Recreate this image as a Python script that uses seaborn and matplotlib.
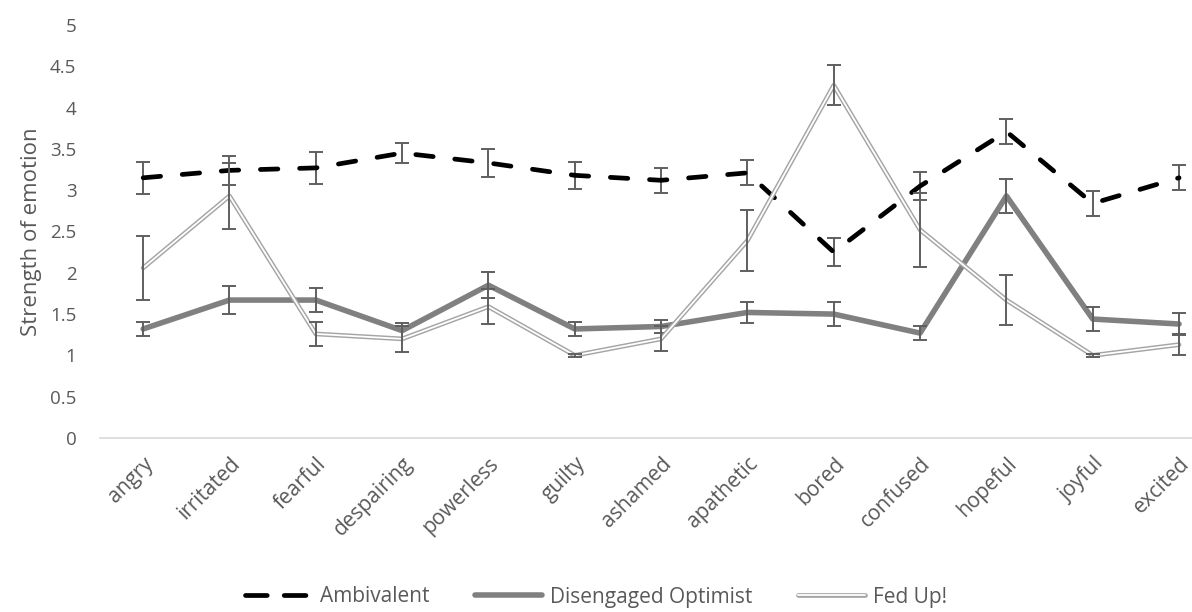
import matplotlib
matplotlib.use("Agg")
import matplotlib.pyplot as plt
from matplotlib.lines import Line2D
import seaborn as sns
import pandas as pd
import numpy as np

emotions = ["angry", "irritated", "fearful", "despairing", "powerless", "guilty",
            "ashamed", "apathetic", "bored", "confused", "hopeful", "joyful", "excited"]

ambivalent = [3.15, 3.24, 3.27, 3.45, 3.33, 3.18, 3.12, 3.21, 2.25, 3.05, 3.71, 2.84, 3.15]
ambivalent_err = [0.19, 0.18, 0.19, 0.12, 0.17, 0.16, 0.15, 0.15, 0.17, 0.17, 0.15, 0.15, 0.15]

disengaged = [1.32, 1.67, 1.67, 1.30, 1.85, 1.32, 1.35, 1.52, 1.50, 1.27, 2.93, 1.44, 1.38]
disengaged_err = [0.09, 0.17, 0.15, 0.09, 0.16, 0.08, 0.08, 0.13, 0.15, 0.08, 0.21, 0.15, 0.13]

fed_up = [2.06, 2.93, 1.26, 1.20, 1.59, 1.00, 1.20, 2.39, 4.27, 2.52, 1.67, 1.00, 1.13]
fed_up_err = [0.39, 0.40, 0.15, 0.16, 0.21, 0.02, 0.15, 0.37, 0.24, 0.45, 0.30, 0.02, 0.13]

y_ticks = [0, 0.5, 1, 1.5, 2, 2.5, 3, 3.5, 4, 4.5, 5]
y_tick_labels = ["0", "0.5", "1", "1.5", "2", "2.5", "3", "3.5", "4", "4.5", "5"]

sns.set_theme(style="white")
plt.rcParams["font.family"] = ["Open Sans", "DejaVu Sans"]

text_color = "#595959"
err_color = "#5f5f5f"

fig = plt.figure(figsize=(11.92, 6.12), dpi=100)
ax = fig.add_axes([100 / 1192, 1 - 438 / 612, 1 - 100 / 1192, (438 - 25) / 612])

x = np.arange(len(emotions))
df = pd.DataFrame({"pos": x, "Ambivalent": ambivalent,
                   "Disengaged Optimist": disengaged, "Fed Up!": fed_up})

# Ambivalent: thick black dashed line
sns.lineplot(data=df, x="pos", y="Ambivalent", ax=ax, color="black", lw=3.4,
             sort=False, zorder=3)
amb_line = ax.lines[-1]
amb_line.set_dashes((3.7, 4.6))
amb_line.set_dash_capstyle("round")
amb_line.set_solid_joinstyle("round")
ax.errorbar(x, ambivalent, yerr=ambivalent_err, fmt="none", ecolor=err_color,
            elinewidth=1.4, capsize=5, capthick=1.4, zorder=2.9)

# Disengaged Optimist: thick mid-grey solid line
sns.lineplot(data=df, x="pos", y="Disengaged Optimist", ax=ax, color="#808080",
             lw=4.0, sort=False, zorder=4)
ax.errorbar(x, disengaged, yerr=disengaged_err, fmt="none", ecolor=err_color,
            elinewidth=1.4, capsize=5, capthick=1.4, zorder=4.1)

# Fed Up!: double line (grey outline with white core)
sns.lineplot(data=df, x="pos", y="Fed Up!", ax=ax, color="#a5a5a5",
             lw=3.4, sort=False, zorder=5)
sns.lineplot(data=df, x="pos", y="Fed Up!", ax=ax, color="white",
             lw=1.3, sort=False, zorder=5.1)
ax.errorbar(x, fed_up, yerr=fed_up_err, fmt="none", ecolor=err_color,
            elinewidth=1.4, capsize=5, capthick=1.4, zorder=5.2)

ax.set_xlim(-0.5, 12.15)
ax.set_ylim(0, 5)
ax.set_yticks(y_ticks)
ax.set_yticklabels(y_tick_labels)
ax.set_xticks(x)
ax.set_xticklabels(emotions, rotation=45, ha="right", rotation_mode="anchor")
ax.tick_params(axis="y", length=0, pad=17, labelsize=13.5, labelcolor=text_color)
ax.tick_params(axis="x", length=0, pad=11, labelsize=15, labelcolor=text_color)
ax.set_xlabel("")
ax.set_ylabel("Strength of emotion", fontsize=16, color=text_color, labelpad=6)

for side in ["top", "right", "left"]:
    ax.spines[side].set_visible(False)
ax.spines["bottom"].set_color("#d9d9d9")
ax.spines["bottom"].set_linewidth(1.2)
ax.grid(False)

h_amb = Line2D([], [], color="black", lw=3.4, dashes=(4.6, 3.6), dash_capstyle="round")
h_dis = Line2D([], [], color="#808080", lw=4.0)
h_fed_o = Line2D([], [], color="#a5a5a5", lw=3.4)
h_fed_i = Line2D([], [], color="white", lw=1.3)
leg = fig.legend([h_amb, h_dis, (h_fed_o, h_fed_i)],
                 ["Ambivalent", "Disengaged Optimist", "Fed Up!"],
                 loc="center", bbox_to_anchor=(0.5, 1 - 597 / 612), ncol=3,
                 frameon=False, fontsize=15, handlelength=3.2, columnspacing=2.2,
                 handletextpad=0.4)
for t in leg.get_texts():
    t.set_color(text_color)

fig.savefig("out.png", dpi=100, facecolor="white")
